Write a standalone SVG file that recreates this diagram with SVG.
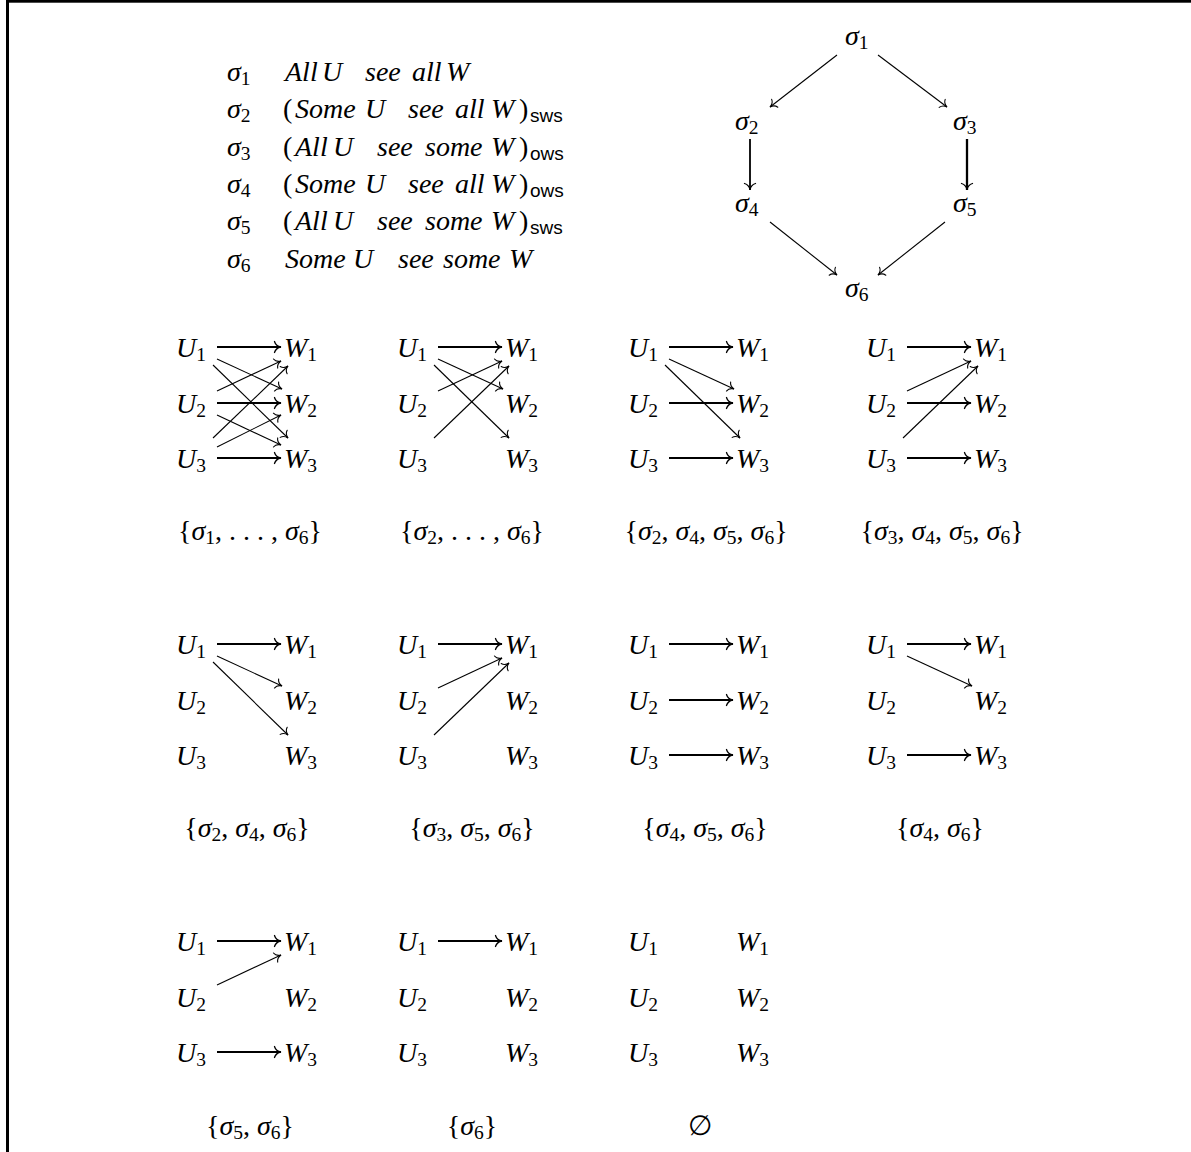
<svg xmlns="http://www.w3.org/2000/svg" width="1191" height="1152" viewBox="0 0 1191 1152">
<style>
.t{font-family:"Liberation Serif","DejaVu Serif",serif;font-size:28px;fill:#000}
.i{font-style:italic}
.s{font-size:19.5px;font-style:normal}
.ss{font-family:"Liberation Sans",sans-serif;font-size:19px;font-style:normal}
.e{stroke:#000;fill:none;stroke-width:1.1;marker-end:url(#to)}
.h{stroke:#000;fill:none;stroke-width:1.8;marker-end:url(#toh)}
</style>
<defs>
<marker id="to" viewBox="-8 -7 10 14" refX="0" refY="0" markerWidth="10" markerHeight="14" markerUnits="userSpaceOnUse" orient="auto">
<path d="M-6,-5 C-5.2,-2 -2.2,-0.4 0,0 C-2.2,0.4 -5.2,2 -6,5" fill="none" stroke="#000" stroke-width="1.1" stroke-linecap="round"/>
</marker>
<marker id="toh" viewBox="-8 -7 10 14" refX="0" refY="0" markerWidth="10" markerHeight="14" markerUnits="userSpaceOnUse" orient="auto">
<path d="M-6.5,-5.5 C-5.5,-2.2 -2.4,-0.4 0,0 C-2.4,0.4 -5.5,2.2 -6.5,5.5" fill="none" stroke="#000" stroke-width="1.3" stroke-linecap="round"/>
</marker>
</defs>
<rect x="0" y="0" width="1191" height="1152" fill="#fff"/>
<g id="frame">
<rect x="6" y="0" width="1185" height="2.7" fill="#000"/>
<rect x="6" y="0" width="3" height="1152" fill="#000"/>
</g>

<g id="legend">
<g id="leg1"><text class="t" y="81"><tspan x="227" class="i">σ</tspan><tspan class="s" dy="4">1</tspan><tspan dy="-4" class="i" x="285">All</tspan><tspan class="i" x="322">U</tspan><tspan class="i" x="365">see</tspan><tspan class="i" x="412">all</tspan><tspan class="i" x="446">W</tspan></text></g>
<g id="leg2"><text class="t" y="118"><tspan x="227" class="i">σ</tspan><tspan class="s" dy="4">2</tspan><tspan dy="-4" x="283">(</tspan><tspan class="i" x="295">Some</tspan><tspan class="i" x="365">U</tspan><tspan class="i" x="408">see</tspan><tspan class="i" x="455">all</tspan><tspan class="i" x="491">W</tspan><tspan x="519">)</tspan><tspan class="ss" dy="4" x="530">sws</tspan></text></g>
<g id="leg3"><text class="t" y="156"><tspan x="227" class="i">σ</tspan><tspan class="s" dy="4">3</tspan><tspan dy="-4" x="283">(</tspan><tspan class="i" x="295">All</tspan><tspan class="i" x="333">U</tspan><tspan class="i" x="377">see</tspan><tspan class="i" x="425">some</tspan><tspan class="i" x="491">W</tspan><tspan x="519">)</tspan><tspan class="ss" dy="4" x="530">ows</tspan></text></g>
<g id="leg4"><text class="t" y="193"><tspan x="227" class="i">σ</tspan><tspan class="s" dy="4">4</tspan><tspan dy="-4" x="283">(</tspan><tspan class="i" x="295">Some</tspan><tspan class="i" x="365">U</tspan><tspan class="i" x="408">see</tspan><tspan class="i" x="455">all</tspan><tspan class="i" x="491">W</tspan><tspan x="519">)</tspan><tspan class="ss" dy="4" x="530">ows</tspan></text></g>
<g id="leg5"><text class="t" y="230"><tspan x="227" class="i">σ</tspan><tspan class="s" dy="4">5</tspan><tspan dy="-4" x="283">(</tspan><tspan class="i" x="295">All</tspan><tspan class="i" x="333">U</tspan><tspan class="i" x="377">see</tspan><tspan class="i" x="425">some</tspan><tspan class="i" x="491">W</tspan><tspan x="519">)</tspan><tspan class="ss" dy="4" x="530">sws</tspan></text></g>
<g id="leg6"><text class="t" y="268"><tspan x="227" class="i">σ</tspan><tspan class="s" dy="4">6</tspan><tspan dy="-4" class="i" x="285">Some</tspan><tspan class="i" x="353">U</tspan><tspan class="i" x="398">see</tspan><tspan class="i" x="443">some</tspan><tspan class="i" x="509">W</tspan></text></g>
</g>

<g id="hasse-nodes">
<g id="s1"><text class="t" x="845" y="45"><tspan class="i">σ</tspan><tspan class="s" dy="4">1</tspan></text></g>
<g id="s2"><text class="t" x="735" y="130"><tspan class="i">σ</tspan><tspan class="s" dy="4">2</tspan></text></g>
<g id="s3"><text class="t" x="953" y="130"><tspan class="i">σ</tspan><tspan class="s" dy="4">3</tspan></text></g>
<g id="s4"><text class="t" x="735" y="212"><tspan class="i">σ</tspan><tspan class="s" dy="4">4</tspan></text></g>
<g id="s5"><text class="t" x="953" y="212"><tspan class="i">σ</tspan><tspan class="s" dy="4">5</tspan></text></g>
<g id="s6"><text class="t" x="845" y="297"><tspan class="i">σ</tspan><tspan class="s" dy="4">6</tspan></text></g>
</g>

<g id="panel-nodes">
<!-- row 1 -->
<g id="p11-U1"><text class="t" x="176" y="357"><tspan class="i">U</tspan><tspan class="s" dy="4">1</tspan></text></g>
<g id="p11-U2"><text class="t" x="176" y="413"><tspan class="i">U</tspan><tspan class="s" dy="4">2</tspan></text></g>
<g id="p11-U3"><text class="t" x="176" y="468"><tspan class="i">U</tspan><tspan class="s" dy="4">3</tspan></text></g>
<g id="p11-W1"><text class="t" x="284" y="357"><tspan class="i">W</tspan><tspan class="s" dy="4">1</tspan></text></g>
<g id="p11-W2"><text class="t" x="284" y="413"><tspan class="i">W</tspan><tspan class="s" dy="4">2</tspan></text></g>
<g id="p11-W3"><text class="t" x="284" y="468"><tspan class="i">W</tspan><tspan class="s" dy="4">3</tspan></text></g>

<g id="p12-U1"><text class="t" x="397" y="357"><tspan class="i">U</tspan><tspan class="s" dy="4">1</tspan></text></g>
<g id="p12-U2"><text class="t" x="397" y="413"><tspan class="i">U</tspan><tspan class="s" dy="4">2</tspan></text></g>
<g id="p12-U3"><text class="t" x="397" y="468"><tspan class="i">U</tspan><tspan class="s" dy="4">3</tspan></text></g>
<g id="p12-W1"><text class="t" x="505" y="357"><tspan class="i">W</tspan><tspan class="s" dy="4">1</tspan></text></g>
<g id="p12-W2"><text class="t" x="505" y="413"><tspan class="i">W</tspan><tspan class="s" dy="4">2</tspan></text></g>
<g id="p12-W3"><text class="t" x="505" y="468"><tspan class="i">W</tspan><tspan class="s" dy="4">3</tspan></text></g>

<g id="p13-U1"><text class="t" x="628" y="357"><tspan class="i">U</tspan><tspan class="s" dy="4">1</tspan></text></g>
<g id="p13-U2"><text class="t" x="628" y="413"><tspan class="i">U</tspan><tspan class="s" dy="4">2</tspan></text></g>
<g id="p13-U3"><text class="t" x="628" y="468"><tspan class="i">U</tspan><tspan class="s" dy="4">3</tspan></text></g>
<g id="p13-W1"><text class="t" x="736" y="357"><tspan class="i">W</tspan><tspan class="s" dy="4">1</tspan></text></g>
<g id="p13-W2"><text class="t" x="736" y="413"><tspan class="i">W</tspan><tspan class="s" dy="4">2</tspan></text></g>
<g id="p13-W3"><text class="t" x="736" y="468"><tspan class="i">W</tspan><tspan class="s" dy="4">3</tspan></text></g>

<g id="p14-U1"><text class="t" x="866" y="357"><tspan class="i">U</tspan><tspan class="s" dy="4">1</tspan></text></g>
<g id="p14-U2"><text class="t" x="866" y="413"><tspan class="i">U</tspan><tspan class="s" dy="4">2</tspan></text></g>
<g id="p14-U3"><text class="t" x="866" y="468"><tspan class="i">U</tspan><tspan class="s" dy="4">3</tspan></text></g>
<g id="p14-W1"><text class="t" x="974" y="357"><tspan class="i">W</tspan><tspan class="s" dy="4">1</tspan></text></g>
<g id="p14-W2"><text class="t" x="974" y="413"><tspan class="i">W</tspan><tspan class="s" dy="4">2</tspan></text></g>
<g id="p14-W3"><text class="t" x="974" y="468"><tspan class="i">W</tspan><tspan class="s" dy="4">3</tspan></text></g>

<!-- row 2 -->
<g id="p21-U1"><text class="t" x="176" y="654"><tspan class="i">U</tspan><tspan class="s" dy="4">1</tspan></text></g>
<g id="p21-U2"><text class="t" x="176" y="710"><tspan class="i">U</tspan><tspan class="s" dy="4">2</tspan></text></g>
<g id="p21-U3"><text class="t" x="176" y="765"><tspan class="i">U</tspan><tspan class="s" dy="4">3</tspan></text></g>
<g id="p21-W1"><text class="t" x="284" y="654"><tspan class="i">W</tspan><tspan class="s" dy="4">1</tspan></text></g>
<g id="p21-W2"><text class="t" x="284" y="710"><tspan class="i">W</tspan><tspan class="s" dy="4">2</tspan></text></g>
<g id="p21-W3"><text class="t" x="284" y="765"><tspan class="i">W</tspan><tspan class="s" dy="4">3</tspan></text></g>

<g id="p22-U1"><text class="t" x="397" y="654"><tspan class="i">U</tspan><tspan class="s" dy="4">1</tspan></text></g>
<g id="p22-U2"><text class="t" x="397" y="710"><tspan class="i">U</tspan><tspan class="s" dy="4">2</tspan></text></g>
<g id="p22-U3"><text class="t" x="397" y="765"><tspan class="i">U</tspan><tspan class="s" dy="4">3</tspan></text></g>
<g id="p22-W1"><text class="t" x="505" y="654"><tspan class="i">W</tspan><tspan class="s" dy="4">1</tspan></text></g>
<g id="p22-W2"><text class="t" x="505" y="710"><tspan class="i">W</tspan><tspan class="s" dy="4">2</tspan></text></g>
<g id="p22-W3"><text class="t" x="505" y="765"><tspan class="i">W</tspan><tspan class="s" dy="4">3</tspan></text></g>

<g id="p23-U1"><text class="t" x="628" y="654"><tspan class="i">U</tspan><tspan class="s" dy="4">1</tspan></text></g>
<g id="p23-U2"><text class="t" x="628" y="710"><tspan class="i">U</tspan><tspan class="s" dy="4">2</tspan></text></g>
<g id="p23-U3"><text class="t" x="628" y="765"><tspan class="i">U</tspan><tspan class="s" dy="4">3</tspan></text></g>
<g id="p23-W1"><text class="t" x="736" y="654"><tspan class="i">W</tspan><tspan class="s" dy="4">1</tspan></text></g>
<g id="p23-W2"><text class="t" x="736" y="710"><tspan class="i">W</tspan><tspan class="s" dy="4">2</tspan></text></g>
<g id="p23-W3"><text class="t" x="736" y="765"><tspan class="i">W</tspan><tspan class="s" dy="4">3</tspan></text></g>

<g id="p24-U1"><text class="t" x="866" y="654"><tspan class="i">U</tspan><tspan class="s" dy="4">1</tspan></text></g>
<g id="p24-U2"><text class="t" x="866" y="710"><tspan class="i">U</tspan><tspan class="s" dy="4">2</tspan></text></g>
<g id="p24-U3"><text class="t" x="866" y="765"><tspan class="i">U</tspan><tspan class="s" dy="4">3</tspan></text></g>
<g id="p24-W1"><text class="t" x="974" y="654"><tspan class="i">W</tspan><tspan class="s" dy="4">1</tspan></text></g>
<g id="p24-W2"><text class="t" x="974" y="710"><tspan class="i">W</tspan><tspan class="s" dy="4">2</tspan></text></g>
<g id="p24-W3"><text class="t" x="974" y="765"><tspan class="i">W</tspan><tspan class="s" dy="4">3</tspan></text></g>

<!-- row 3 -->
<g id="p31-U1"><text class="t" x="176" y="951"><tspan class="i">U</tspan><tspan class="s" dy="4">1</tspan></text></g>
<g id="p31-U2"><text class="t" x="176" y="1007"><tspan class="i">U</tspan><tspan class="s" dy="4">2</tspan></text></g>
<g id="p31-U3"><text class="t" x="176" y="1062"><tspan class="i">U</tspan><tspan class="s" dy="4">3</tspan></text></g>
<g id="p31-W1"><text class="t" x="284" y="951"><tspan class="i">W</tspan><tspan class="s" dy="4">1</tspan></text></g>
<g id="p31-W2"><text class="t" x="284" y="1007"><tspan class="i">W</tspan><tspan class="s" dy="4">2</tspan></text></g>
<g id="p31-W3"><text class="t" x="284" y="1062"><tspan class="i">W</tspan><tspan class="s" dy="4">3</tspan></text></g>

<g id="p32-U1"><text class="t" x="397" y="951"><tspan class="i">U</tspan><tspan class="s" dy="4">1</tspan></text></g>
<g id="p32-U2"><text class="t" x="397" y="1007"><tspan class="i">U</tspan><tspan class="s" dy="4">2</tspan></text></g>
<g id="p32-U3"><text class="t" x="397" y="1062"><tspan class="i">U</tspan><tspan class="s" dy="4">3</tspan></text></g>
<g id="p32-W1"><text class="t" x="505" y="951"><tspan class="i">W</tspan><tspan class="s" dy="4">1</tspan></text></g>
<g id="p32-W2"><text class="t" x="505" y="1007"><tspan class="i">W</tspan><tspan class="s" dy="4">2</tspan></text></g>
<g id="p32-W3"><text class="t" x="505" y="1062"><tspan class="i">W</tspan><tspan class="s" dy="4">3</tspan></text></g>

<g id="p33-U1"><text class="t" x="628" y="951"><tspan class="i">U</tspan><tspan class="s" dy="4">1</tspan></text></g>
<g id="p33-U2"><text class="t" x="628" y="1007"><tspan class="i">U</tspan><tspan class="s" dy="4">2</tspan></text></g>
<g id="p33-U3"><text class="t" x="628" y="1062"><tspan class="i">U</tspan><tspan class="s" dy="4">3</tspan></text></g>
<g id="p33-W1"><text class="t" x="736" y="951"><tspan class="i">W</tspan><tspan class="s" dy="4">1</tspan></text></g>
<g id="p33-W2"><text class="t" x="736" y="1007"><tspan class="i">W</tspan><tspan class="s" dy="4">2</tspan></text></g>
<g id="p33-W3"><text class="t" x="736" y="1062"><tspan class="i">W</tspan><tspan class="s" dy="4">3</tspan></text></g>
</g>

<g id="set-labels">
<g id="lab11"><text class="t" x="250" y="540" text-anchor="middle">{<tspan class="i">σ</tspan><tspan class="s" dy="4">1</tspan><tspan dy="-4">, . . . , </tspan><tspan class="i">σ</tspan><tspan class="s" dy="4">6</tspan><tspan dy="-4">}</tspan></text></g>
<g id="lab12"><text class="t" x="472" y="540" text-anchor="middle">{<tspan class="i">σ</tspan><tspan class="s" dy="4">2</tspan><tspan dy="-4">, . . . , </tspan><tspan class="i">σ</tspan><tspan class="s" dy="4">6</tspan><tspan dy="-4">}</tspan></text></g>
<g id="lab13"><text class="t" x="706" y="540" text-anchor="middle">{<tspan class="i">σ</tspan><tspan class="s" dy="4">2</tspan><tspan dy="-4">, </tspan><tspan class="i">σ</tspan><tspan class="s" dy="4">4</tspan><tspan dy="-4">, </tspan><tspan class="i">σ</tspan><tspan class="s" dy="4">5</tspan><tspan dy="-4">, </tspan><tspan class="i">σ</tspan><tspan class="s" dy="4">6</tspan><tspan dy="-4">}</tspan></text></g>
<g id="lab14"><text class="t" x="942" y="540" text-anchor="middle">{<tspan class="i">σ</tspan><tspan class="s" dy="4">3</tspan><tspan dy="-4">, </tspan><tspan class="i">σ</tspan><tspan class="s" dy="4">4</tspan><tspan dy="-4">, </tspan><tspan class="i">σ</tspan><tspan class="s" dy="4">5</tspan><tspan dy="-4">, </tspan><tspan class="i">σ</tspan><tspan class="s" dy="4">6</tspan><tspan dy="-4">}</tspan></text></g>
<g id="lab21"><text class="t" x="247" y="837" text-anchor="middle">{<tspan class="i">σ</tspan><tspan class="s" dy="4">2</tspan><tspan dy="-4">, </tspan><tspan class="i">σ</tspan><tspan class="s" dy="4">4</tspan><tspan dy="-4">, </tspan><tspan class="i">σ</tspan><tspan class="s" dy="4">6</tspan><tspan dy="-4">}</tspan></text></g>
<g id="lab22"><text class="t" x="472" y="837" text-anchor="middle">{<tspan class="i">σ</tspan><tspan class="s" dy="4">3</tspan><tspan dy="-4">, </tspan><tspan class="i">σ</tspan><tspan class="s" dy="4">5</tspan><tspan dy="-4">, </tspan><tspan class="i">σ</tspan><tspan class="s" dy="4">6</tspan><tspan dy="-4">}</tspan></text></g>
<g id="lab23"><text class="t" x="705" y="837" text-anchor="middle">{<tspan class="i">σ</tspan><tspan class="s" dy="4">4</tspan><tspan dy="-4">, </tspan><tspan class="i">σ</tspan><tspan class="s" dy="4">5</tspan><tspan dy="-4">, </tspan><tspan class="i">σ</tspan><tspan class="s" dy="4">6</tspan><tspan dy="-4">}</tspan></text></g>
<g id="lab24"><text class="t" x="940" y="837" text-anchor="middle">{<tspan class="i">σ</tspan><tspan class="s" dy="4">4</tspan><tspan dy="-4">, </tspan><tspan class="i">σ</tspan><tspan class="s" dy="4">6</tspan><tspan dy="-4">}</tspan></text></g>
<g id="lab31"><text class="t" x="250" y="1135" text-anchor="middle">{<tspan class="i">σ</tspan><tspan class="s" dy="4">5</tspan><tspan dy="-4">, </tspan><tspan class="i">σ</tspan><tspan class="s" dy="4">6</tspan><tspan dy="-4">}</tspan></text></g>
<g id="lab32"><text class="t" x="472" y="1135" text-anchor="middle">{<tspan class="i">σ</tspan><tspan class="s" dy="4">6</tspan><tspan dy="-4">}</tspan></text></g>
<g id="lab33"><text class="t" x="700" y="1135" text-anchor="middle">∅</text></g>
</g>

<g id="connectors">
<!-- hasse -->
<line class="e" x1="837" y1="55" x2="770" y2="107"/>
<line class="e" x1="878" y1="55" x2="947" y2="107"/>
<line class="h" x1="750" y1="139" x2="750" y2="190"/>
<line class="h" x1="967" y1="139" x2="967" y2="190" style="stroke-width:2.3"/>
<line class="e" x1="770" y1="222" x2="837" y2="275"/>
<line class="e" x1="945" y1="222" x2="878" y2="275"/>

<!-- panel 1,1 -->
<line class="h" x1="217" y1="347" x2="281" y2="347"/>
<line class="h" x1="217" y1="403" x2="281" y2="403"/>
<line class="h" x1="217" y1="458" x2="281" y2="458"/>
<line class="e" x1="217" y1="359" x2="282" y2="389"/>
<line class="e" x1="213" y1="365" x2="288" y2="438"/>
<line class="e" x1="217" y1="391" x2="281" y2="361"/>
<line class="e" x1="217" y1="415" x2="281" y2="445"/>
<line class="e" x1="213" y1="438" x2="288" y2="366"/>
<line class="e" x1="217" y1="447" x2="281" y2="415"/>
<!-- panel 1,2 -->
<line class="h" x1="438" y1="347" x2="502" y2="347"/>
<line class="e" x1="438" y1="359" x2="503" y2="389"/>
<line class="e" x1="434" y1="365" x2="509" y2="438"/>
<line class="e" x1="438" y1="391" x2="502" y2="361"/>
<line class="e" x1="434" y1="438" x2="509" y2="366"/>
<!-- panel 1,3 -->
<line class="h" x1="669" y1="347" x2="733" y2="347"/>
<line class="h" x1="669" y1="403" x2="733" y2="403"/>
<line class="h" x1="669" y1="458" x2="733" y2="458"/>
<line class="e" x1="669" y1="359" x2="734" y2="389"/>
<line class="e" x1="665" y1="365" x2="740" y2="438"/>
<!-- panel 1,4 -->
<line class="h" x1="907" y1="347" x2="971" y2="347"/>
<line class="h" x1="907" y1="403" x2="971" y2="403"/>
<line class="h" x1="907" y1="458" x2="971" y2="458"/>
<line class="e" x1="907" y1="391" x2="971" y2="361"/>
<line class="e" x1="903" y1="438" x2="978" y2="366"/>
<!-- panel 2,1 -->
<line class="h" x1="217" y1="644" x2="281" y2="644"/>
<line class="e" x1="217" y1="656" x2="282" y2="686"/>
<line class="e" x1="213" y1="662" x2="288" y2="735"/>
<!-- panel 2,2 -->
<line class="h" x1="438" y1="644" x2="502" y2="644"/>
<line class="e" x1="438" y1="688" x2="502" y2="658"/>
<line class="e" x1="434" y1="735" x2="509" y2="663"/>
<!-- panel 2,3 -->
<line class="h" x1="669" y1="644" x2="733" y2="644"/>
<line class="h" x1="669" y1="700" x2="733" y2="700"/>
<line class="h" x1="669" y1="755" x2="733" y2="755"/>
<!-- panel 2,4 -->
<line class="h" x1="907" y1="644" x2="971" y2="644"/>
<line class="e" x1="907" y1="656" x2="972" y2="686"/>
<line class="h" x1="907" y1="755" x2="971" y2="755"/>
<!-- panel 3,1 -->
<line class="h" x1="217" y1="941" x2="281" y2="941"/>
<line class="e" x1="217" y1="985" x2="281" y2="955"/>
<line class="h" x1="217" y1="1052" x2="281" y2="1052"/>
<!-- panel 3,2 -->
<line class="h" x1="438" y1="941" x2="502" y2="941"/>
</g>
</svg>
